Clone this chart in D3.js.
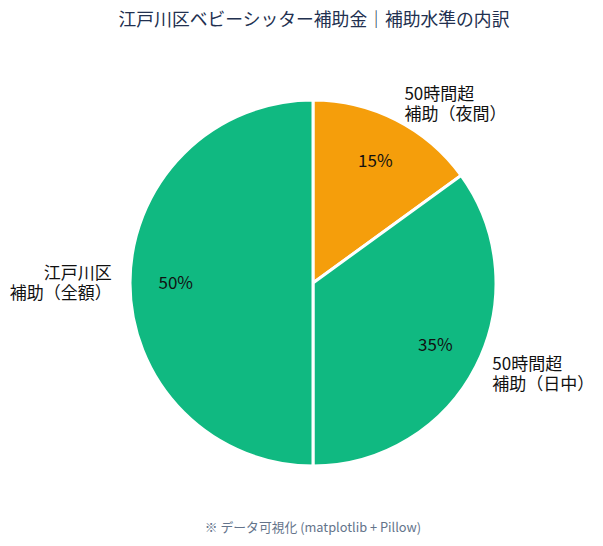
<!DOCTYPE html>
<html>
<head>
<meta charset="utf-8">
<script src="https://cdn.jsdelivr.net/npm/d3@7"></script>
<style>
  body { margin: 0; background: #fff; }
  svg { display: block; font-family: "Noto Sans CJK JP", "Noto Sans", sans-serif; }
</style>
</head>
<body>
<script>
// データ
var labels = [["50時間超", "補助（夜間）"], ["50時間超", "補助（日中）"], ["江戸川区", "補助（全額）"]];
var values = [15, 35, 50];
var colors = ["#f59e0b", "#10b981", "#10b981"];

var width = 603, height = 546;
var cx = 313, cy = 283, r = 183;

var svg = d3.select("body").append("svg")
  .attr("width", width)
  .attr("height", height);

// タイトル
svg.append("text")
  .attr("x", 314)
  .attr("y", 26)
  .attr("text-anchor", "middle")
  .attr("font-size", 17.8)
  .attr("fill", "#22304f")
  .text("江戸川区ベビーシッター補助金｜補助水準の内訳");

var pie = d3.pie().sort(null).value(d => d);
var arcs = pie(values);
var arc = d3.arc().innerRadius(0).outerRadius(r);

var g = svg.append("g").attr("transform", `translate(${cx},${cy})`);

g.selectAll("path")
  .data(arcs)
  .join("path")
  .attr("d", arc)
  .attr("fill", (d, i) => colors[i])
  .attr("stroke", "#fff")
  .attr("stroke-width", 3)
  .attr("stroke-linejoin", "round");

// パーセント表示
var pctArc = d3.arc().innerRadius(r * 0.75).outerRadius(r * 0.75);
g.selectAll("text.pct")
  .data(arcs)
  .join("text")
  .attr("class", "pct")
  .attr("transform", d => `translate(${pctArc.centroid(d)})`)
  .attr("text-anchor", "middle")
  .attr("dy", "0.35em")
  .attr("font-size", 17)
  .attr("fill", "#111")
  .text(d => d.data + "%");

// ラベル
var lblArc = d3.arc().innerRadius(r * 1.1).outerRadius(r * 1.1);
var lbl = g.selectAll("text.lbl")
  .data(arcs)
  .join("text")
  .attr("class", "lbl")
  .attr("font-size", 17)
  .attr("fill", "#111")
  .attr("text-anchor", d => lblArc.centroid(d)[0] >= 0 ? "start" : "end")
  .attr("transform", d => `translate(${lblArc.centroid(d)})`);

lbl.selectAll("tspan")
  .data((d, i) => labels[i].map((t, k) => ({t: t, k: k})))
  .join("tspan")
  .attr("x", 0)
  .attr("y", d => d.k === 0 ? -4 : 16)
  .text(d => d.t);

// フッター
svg.append("text")
  .attr("x", 313)
  .attr("y", 532)
  .attr("text-anchor", "middle")
  .attr("font-size", 12.8)
  .attr("fill", "#64748b")
  .text("※ データ可視化 (matplotlib + Pillow)");
</script>
</body>
</html>
